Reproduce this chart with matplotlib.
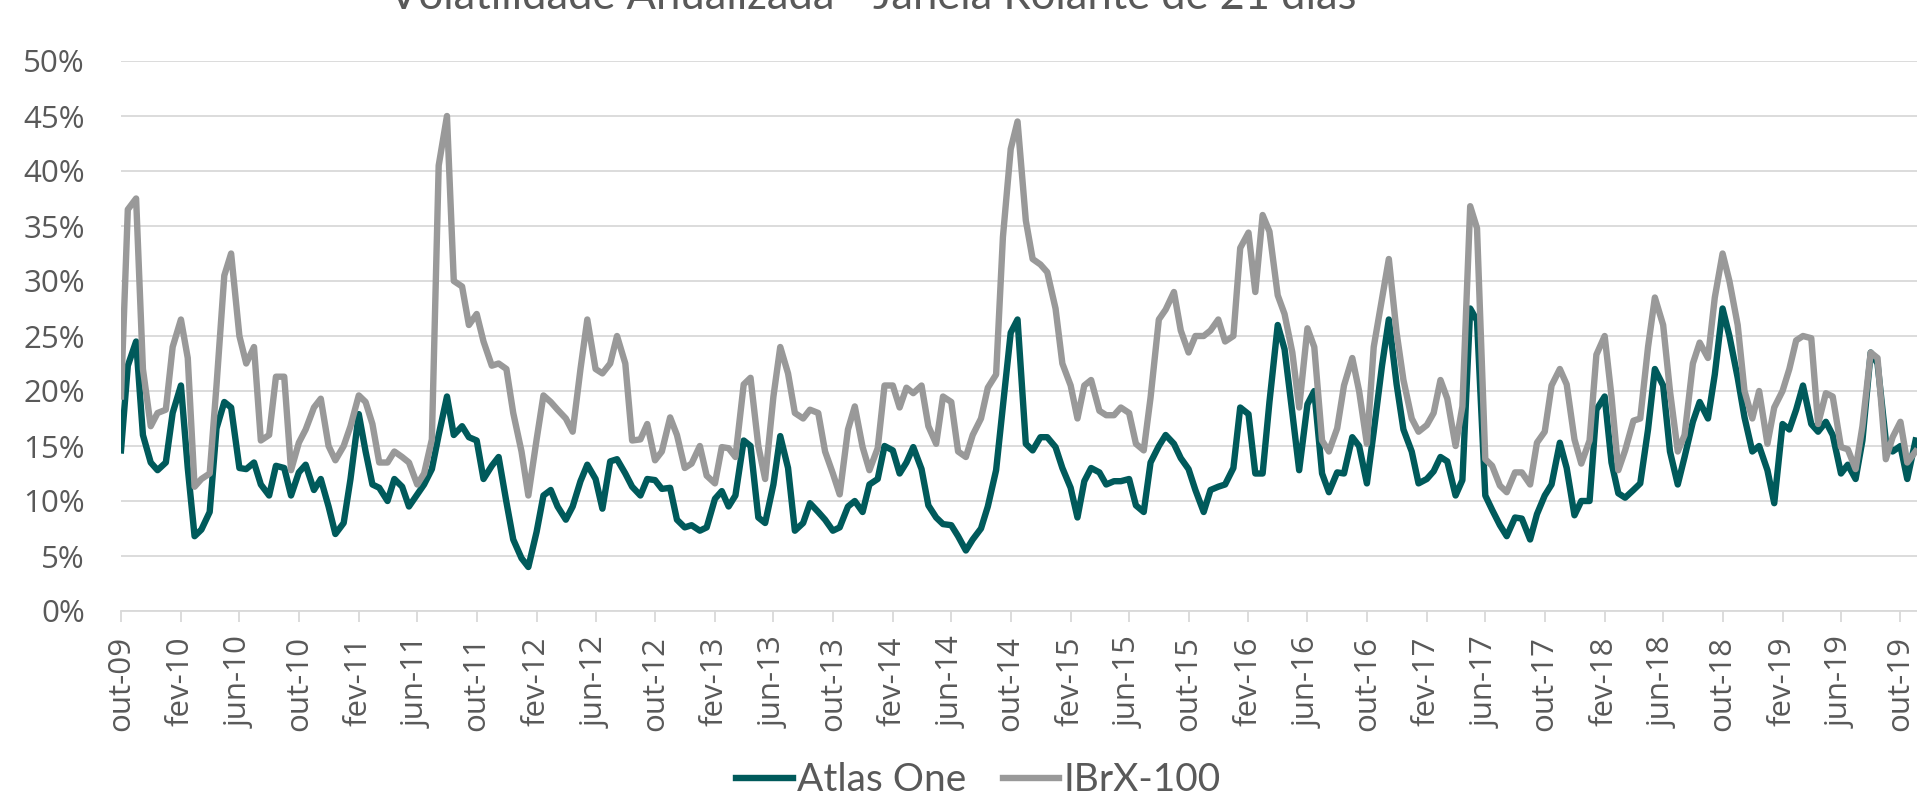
import numpy as np
import pandas as pd
import matplotlib
matplotlib.use('Agg')
import matplotlib.pyplot as plt
from matplotlib.ticker import MultipleLocator, PercentFormatter

# semi-monthly readings (1st and 15th of each month), in %
start_date = '2009-10-01'

atlas_one = [
    14.6, 22.3, 24.5, 16.0, 13.5, 12.8, 13.5, 18.0, 20.5, 13.0,
    6.8, 7.4, 9.0, 16.6, 19.0, 18.5, 13.0, 12.9, 13.5, 11.5,
    10.5, 13.2, 13.0, 10.5, 12.6, 13.3, 11.0, 12.0, 9.5, 7.0,
    8.0, 12.0, 17.9, 14.5, 11.5, 11.2, 10.0, 12.0, 11.3, 9.5,
    10.6, 11.5, 12.9, 16.0, 19.5, 16.0, 16.8, 15.8, 15.5, 12.0,
    13.2, 14.0, 9.9, 6.5, 4.8, 4.0, 7.2, 10.5, 11.0, 9.5,
    8.3, 9.5, 11.8, 13.3, 12.0, 9.3, 13.6, 13.8, 12.5, 11.3,
    10.5, 12.0, 11.9, 11.1, 11.2, 8.3, 7.6, 7.8, 7.3, 7.6,
    10.2, 10.9, 9.5, 10.5, 15.5, 15.0, 8.5, 8.0, 11.5, 15.9,
    13.0, 7.3, 8.0, 9.8, 9.0, 8.3, 7.3, 7.6, 9.5, 10.0,
    9.0, 11.5, 12.0, 15.0, 14.6, 12.5, 13.5, 14.9, 12.9, 9.6,
    8.5, 7.9, 7.8, 6.8, 5.5, 6.5, 7.5, 9.5, 12.8, 18.6,
    25.3, 26.5, 15.2, 14.6, 15.8, 15.8, 14.9, 13.0, 11.2, 8.5,
    11.8, 13.0, 12.6, 11.5, 11.8, 11.8, 12.0, 9.6, 9.0, 13.5,
    15.0, 16.0, 15.2, 13.9, 12.9, 11.0, 9.0, 11.0, 11.3, 11.5,
    13.0, 18.5, 17.9, 12.5, 12.5, 19.0, 26.0, 23.8, 18.0, 12.8,
    18.8, 20.0, 12.5, 10.8, 12.6, 12.5, 15.8, 15.0, 11.6, 16.3,
    22.3, 26.5, 20.6, 16.5, 14.5, 11.6, 12.0, 12.7, 14.0, 13.6,
    10.5, 11.9, 27.5, 26.4, 10.5, 9.2, 7.8, 6.8, 8.5, 8.4,
    6.5, 8.8, 10.5, 11.5, 15.3, 13.0, 8.7, 10.0, 10.0, 18.3,
    19.5, 13.5, 10.7, 10.3, 11.0, 11.6, 16.5, 22.0, 20.5, 14.5,
    11.5, 14.0, 17.2, 19.0, 17.5, 21.5, 27.5, 25.0, 21.2, 17.6,
    14.5, 15.0, 12.8, 9.8, 17.0, 16.5, 18.3, 20.5, 17.0, 16.3,
    17.2, 16.0, 12.5, 13.3, 12.0, 15.5, 23.5, 22.5, 15.5, 14.5,
    15.0, 12.0, 15.5,
]

ibrx_100 = [
    19.5, 36.5, 37.5, 22.0, 16.8, 18.0, 18.3, 24.0, 26.5, 23.0,
    11.3, 12.0, 12.5, 20.5, 30.5, 32.5, 25.0, 22.5, 24.0, 15.5,
    16.0, 21.3, 21.3, 12.8, 15.3, 16.5, 18.5, 19.3, 15.0, 13.7,
    15.0, 16.8, 19.6, 19.0, 17.0, 13.5, 13.5, 14.5, 14.0, 13.5,
    11.5, 12.5, 15.6, 40.5, 45.0, 30.0, 29.5, 26.0, 27.0, 24.5,
    22.3, 22.5, 22.0, 18.0, 14.5, 10.5, 15.6, 19.6, 19.0, 18.3,
    17.5, 16.3, 22.0, 26.5, 22.0, 21.6, 22.5, 25.0, 22.5, 15.5,
    15.6, 17.0, 13.7, 14.5, 17.6, 16.0, 13.0, 13.4, 15.0, 12.3,
    11.6, 14.9, 14.8, 14.0, 20.6, 21.2, 15.0, 12.0, 19.5, 24.0,
    21.6, 18.0, 17.5, 18.3, 18.0, 14.5, 12.5, 10.6, 16.5, 18.6,
    14.9, 12.8, 14.8, 20.5, 20.5, 18.5, 20.3, 19.8, 20.5, 16.8,
    15.2, 19.5, 19.0, 14.5, 14.0, 16.0, 17.5, 20.3, 21.5, 34.0,
    42.0, 44.5, 35.5, 32.0, 31.5, 30.8, 27.5, 22.5, 20.5, 17.5,
    20.5, 21.0, 18.2, 17.8, 17.8, 18.5, 18.0, 15.2, 14.6, 19.4,
    26.5, 27.4, 29.0, 25.5, 23.5, 25.0, 25.0, 25.5, 26.5, 24.5,
    25.0, 33.0, 34.4, 29.0, 36.0, 34.5, 28.7, 27.0, 23.5, 18.5,
    25.7, 24.0, 15.5, 14.5, 16.6, 20.5, 23.0, 20.0, 15.2, 24.0,
    28.4, 32.0, 25.3, 21.0, 17.5, 16.3, 16.9, 18.0, 21.0, 19.3,
    15.0, 18.6, 36.8, 34.8, 13.8, 13.2, 11.4, 10.8, 12.6, 12.6,
    11.5, 15.3, 16.3, 20.5, 22.0, 20.6, 15.6, 13.4, 15.5, 23.3,
    25.0, 19.5, 12.8, 14.6, 17.3, 17.5, 24.0, 28.5, 26.0, 20.0,
    14.5, 16.0, 22.5, 24.4, 23.0, 28.5, 32.5, 30.0, 26.0, 20.0,
    17.5, 20.0, 15.2, 18.5, 20.0, 22.0, 24.6, 25.0, 24.8, 17.0,
    19.8, 19.5, 14.9, 14.7, 12.9, 16.8, 23.5, 23.0, 13.8, 15.8,
    17.2, 13.5, 14.5,
]

tick_labels = [
    'out-09', 'fev-10', 'jun-10', 'out-10', 'fev-11', 'jun-11', 'out-11',
    'fev-12', 'jun-12', 'out-12', 'fev-13', 'jun-13', 'out-13', 'fev-14',
    'jun-14', 'out-14', 'fev-15', 'jun-15', 'out-15', 'fev-16', 'jun-16',
    'out-16', 'fev-17', 'jun-17', 'out-17', 'fev-18', 'jun-18', 'out-18',
    'fev-19', 'jun-19', 'out-19',
]

title = 'Volatilidade Anualizada - Janela Rolante de 21 dias'

dates = pd.date_range(start_date, periods=len(atlas_one), freq='SMS')
tick_dates = pd.date_range(start_date, periods=len(tick_labels), freq='4MS')

text_color = '#595959'
grid_color = '#d9d9d9'

fig = plt.figure(figsize=(19.17, 8.01), dpi=100)
ax = fig.add_axes([121 / 1917, 1 - 611 / 801, 1 - 121 / 1917, 550 / 801])

ax.plot(dates, atlas_one, color='#005a5b', lw=4.6, label='Atlas One')
ax.plot(dates, ibrx_100, color='#999999', lw=4.6, label='IBrX-100')

ax.set_ylim(0, 50)
ax.set_xlim(pd.Timestamp(start_date), pd.Timestamp('2019-11-04'))

ax.yaxis.set_major_locator(MultipleLocator(5))
ax.yaxis.set_major_formatter(PercentFormatter(100, decimals=0))
ax.yaxis.grid(True, color=grid_color, lw=1.3)
ax.set_axisbelow(True)

for side in ['top', 'right', 'left']:
    ax.spines[side].set_visible(False)
ax.spines['bottom'].set_color(grid_color)
ax.spines['bottom'].set_linewidth(1.3)

ax.set_xticks(tick_dates)
ax.set_xticklabels(tick_labels, rotation=90)

ax.tick_params(axis='y', length=0, pad=26, labelsize=22.5, labelcolor=text_color)
ax.tick_params(axis='x', length=8, width=1.3, color=grid_color, pad=10,
               labelsize=22.5, labelcolor=text_color)
for lab in ax.get_xticklabels() + ax.get_yticklabels():
    lab.set_family('Open Sans')

fig.text(873 / 1917, 1 - 9 / 801, title, ha='center', va='baseline',
         fontsize=31.3, family='Lato', color=text_color)

leg = fig.legend(loc='center', bbox_to_anchor=(0.5104, 0.026), ncol=2,
                 frameon=False, prop={'family': 'Lato', 'size': 28},
                 handlelength=1.45, handletextpad=0.1, columnspacing=0.95)
for t in leg.get_texts():
    t.set_color(text_color)

fig.savefig('out.png', dpi=100)
